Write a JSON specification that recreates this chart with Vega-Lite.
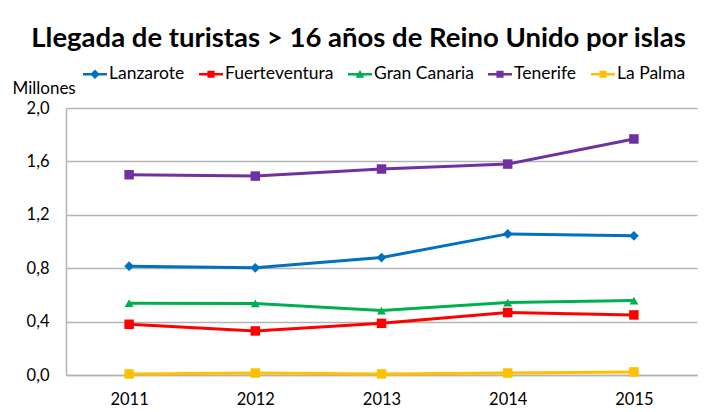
{
  "$schema": "https://vega.github.io/schema/vega-lite/v6.json",
  "autosize": "none",
  "width": 631,
  "height": 267,
  "padding": {"left": 66, "top": 108, "right": 12, "bottom": 37},
  "background": "white",
  "title": {
    "text": "Llegada de turistas > 16 años de Reino Unido por islas",
    "font": "Lato",
    "fontSize": 27.5,
    "fontWeight": "bold",
    "color": "#000000",
    "anchor": "middle",
    "dx": -23,
    "offset": 10
  },
  "config": {
    "view": {"stroke": null},
    "font": "Lato"
  },
  "data": {
    "values": [
      {"year": "2011", "isla": "Lanzarote", "valor": 0.815},
      {"year": "2012", "isla": "Lanzarote", "valor": 0.803},
      {"year": "2013", "isla": "Lanzarote", "valor": 0.88},
      {"year": "2014", "isla": "Lanzarote", "valor": 1.057},
      {"year": "2015", "isla": "Lanzarote", "valor": 1.043},
      {"year": "2011", "isla": "Fuerteventura", "valor": 0.38},
      {"year": "2012", "isla": "Fuerteventura", "valor": 0.33},
      {"year": "2013", "isla": "Fuerteventura", "valor": 0.387},
      {"year": "2014", "isla": "Fuerteventura", "valor": 0.468},
      {"year": "2015", "isla": "Fuerteventura", "valor": 0.45},
      {"year": "2011", "isla": "Gran Canaria", "valor": 0.538},
      {"year": "2012", "isla": "Gran Canaria", "valor": 0.536},
      {"year": "2013", "isla": "Gran Canaria", "valor": 0.483},
      {"year": "2014", "isla": "Gran Canaria", "valor": 0.543},
      {"year": "2015", "isla": "Gran Canaria", "valor": 0.558},
      {"year": "2011", "isla": "Tenerife", "valor": 1.5},
      {"year": "2012", "isla": "Tenerife", "valor": 1.49},
      {"year": "2013", "isla": "Tenerife", "valor": 1.543},
      {"year": "2014", "isla": "Tenerife", "valor": 1.58},
      {"year": "2015", "isla": "Tenerife", "valor": 1.768},
      {"year": "2011", "isla": "La Palma", "valor": 0.008},
      {"year": "2012", "isla": "La Palma", "valor": 0.015},
      {"year": "2013", "isla": "La Palma", "valor": 0.008},
      {"year": "2014", "isla": "La Palma", "valor": 0.015},
      {"year": "2015", "isla": "La Palma", "valor": 0.023}
    ]
  },
  "encoding": {
    "x": {
      "field": "year",
      "type": "ordinal",
      "scale": {"type": "point", "padding": 0.5},
      "axis": {
        "title": null,
        "labelAngle": 0,
        "ticks": false,
        "grid": false,
        "domainColor": "#b3b3b3",
        "domainWidth": 1.5,
        "labelFont": "Lato",
        "labelFontSize": 16.5,
        "labelColor": "#000000",
        "labelPadding": 16
      }
    },
    "y": {
      "field": "valor",
      "type": "quantitative",
      "scale": {"domain": [0, 2], "nice": false},
      "axis": {
        "title": "Millones",
        "titleAngle": 0,
        "titleX": -54,
        "titleY": -15,
        "titleAlign": "left",
        "titleBaseline": "alphabetic",
        "titleFont": "Lato",
        "titleFontSize": 17,
        "titleFontWeight": "normal",
        "titleColor": "#000000",
        "values": [0, 0.4, 0.8, 1.2, 1.6, 2.0],
        "labelExpr": "replace(format(datum.value, '.1f'), '.', ',')",
        "ticks": false,
        "grid": true,
        "gridColor": "#b3b3b3",
        "gridWidth": 1.5,
        "domainColor": "#b3b3b3",
        "domainWidth": 1.5,
        "labelFont": "Lato",
        "labelFontSize": 16.5,
        "labelColor": "#000000",
        "labelPadding": 17
      }
    },
    "color": {
      "field": "isla",
      "type": "nominal",
      "scale": {
        "domain": ["Lanzarote", "Fuerteventura", "Gran Canaria", "Tenerife", "La Palma"],
        "range": ["#0070C0", "#FF0000", "#00B050", "#7030A0", "#FFC000"]
      },
      "legend": {
        "title": null,
        "orient": "none",
        "direction": "horizontal",
        "legendX": 17,
        "legendY": -46,
        "symbolSize": 576,
        "symbolStrokeWidth": 0,
        "symbolOpacity": 1,
        "labelFont": "Lato",
        "labelFontSize": 17.5,
        "labelColor": "#000000",
        "labelOffset": 2,
        "columnPadding": 14,
        "encode": {
          "symbols": {
            "update": {
              "fill": {"scale": "color", "field": "value"},
              "stroke": {"value": "transparent"},
              "opacity": {"value": 1},
              "shape": {
                "signal": "datum.value === 'Lanzarote' ? 'M-1,-0.1H1V0.1H-1Z M0,-0.4L0.4,0L0,0.4L-0.4,0Z' : datum.value === 'Gran Canaria' ? 'M-1,-0.1H1V0.1H-1Z M0,-0.38L0.36,0.3L-0.36,0.3Z' : 'M-1,-0.1H1V0.1H-1Z M-0.3,-0.3H0.3V0.3H-0.3Z'"
              }
            }
          }
        }
      }
    }
  },
  "layer": [
    {
      "mark": {"type": "line", "strokeWidth": 3}
    },
    {
      "transform": [{"filter": "datum.isla === 'Lanzarote'"}],
      "mark": {"type": "point", "shape": "diamond", "filled": true, "opacity": 1, "size": 95}
    },
    {
      "transform": [{"filter": "datum.isla === 'Gran Canaria'"}],
      "mark": {"type": "point", "shape": "triangle-up", "filled": true, "opacity": 1, "size": 80}
    },
    {
      "transform": [{"filter": "datum.isla !== 'Lanzarote' && datum.isla !== 'Gran Canaria'"}],
      "mark": {"type": "point", "shape": "square", "filled": true, "opacity": 1, "size": 90}
    }
  ]
}
